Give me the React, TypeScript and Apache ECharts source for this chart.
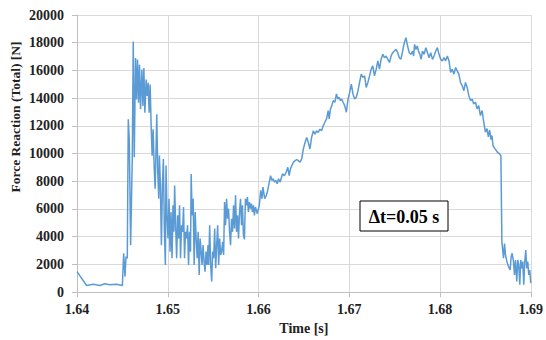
import React, { useEffect, useRef } from "react";
import * as echarts from "echarts";

// Time [s], Force [N]
const preContact: [number, number][] = [
  [1.64, 1480], [1.64106, 480], [1.64179, 570], [1.64252, 480], [1.64306, 600],
  [1.64361, 525], [1.64434, 570], [1.645, 480], [1.64514, 2800], [1.64529, 1120],
  [1.6454, 2560], [1.64554, 2440],
];

const impactPhase: [number, number][] = [
  [1.64565, 12480], [1.64576, 11040], [1.64591, 3390], [1.64609, 9600], [1.6462, 18090],
  [1.64631, 9730], [1.64645, 16900], [1.64656, 13900], [1.64667, 16780], [1.64678, 13670],
  [1.64689, 16400], [1.647, 13200], [1.64715, 16060], [1.64726, 13430], [1.64737, 16180],
  [1.64748, 12950], [1.64762, 15340], [1.64773, 14150], [1.64784, 15100], [1.64795, 12950],
  [1.64806, 14980], [1.64817, 12000], [1.64828, 9850], [1.64839, 11760], [1.6485, 9130],
  [1.64861, 7460], [1.64872, 10560], [1.64879, 12830], [1.6489, 8650], [1.64901, 6740],
  [1.64908, 9850], [1.64919, 7700], [1.6493, 3390], [1.64941, 7700], [1.64952, 9600],
  [1.64963, 4350], [1.64974, 1960], [1.64981, 9130], [1.64992, 5540], [1.65003, 3870],
  [1.65014, 6740], [1.65025, 2920], [1.65036, 5780], [1.65047, 2440], [1.65058, 6260],
  [1.65068, 4350], [1.65076, 7700], [1.65087, 4830], [1.65098, 2440], [1.65109, 5540],
  [1.6512, 3870], [1.6513, 6260], [1.65141, 2440], [1.65152, 4830], [1.65163, 4350],
  [1.65174, 6140], [1.65185, 2440], [1.65196, 4350], [1.65207, 3870], [1.65218, 4830],
  [1.65229, 1960], [1.6524, 4350], [1.65251, 2920], [1.65258, 8530], [1.65269, 5540],
  [1.6528, 6740], [1.65291, 1960], [1.65302, 5780], [1.65313, 3870], [1.65324, 2440],
  [1.65335, 4350], [1.65346, 1240], [1.65357, 3870], [1.65368, 2920], [1.65378, 1960],
  [1.65389, 3390], [1.654, 2200], [1.65411, 1480], [1.65422, 2920], [1.65433, 1960],
  [1.65444, 3390], [1.65451, 1960], [1.65462, 4830], [1.65473, 1960], [1.65484, 760],
  [1.65495, 2920], [1.65506, 2440], [1.65517, 4590], [1.65528, 1720], [1.65539, 3390],
  [1.6555, 4830], [1.65561, 1960], [1.65572, 3870], [1.65583, 2680], [1.65594, 2920],
  [1.65605, 3630], [1.65616, 2680], [1.65626, 6500], [1.65637, 4830], [1.65648, 6740],
  [1.65659, 5300], [1.6567, 6020], [1.65681, 4350], [1.65692, 3390], [1.65703, 5300],
  [1.65714, 4350], [1.65725, 6260], [1.65736, 4590], [1.65747, 6980], [1.65758, 4350],
  [1.65769, 5540], [1.6578, 3870], [1.65791, 5780], [1.65802, 6740], [1.65813, 4830],
  [1.65823, 6260], [1.65834, 4110], [1.65845, 3800], [1.65856, 6740], [1.65867, 6260],
  [1.65878, 6860], [1.65889, 5780], [1.659, 6500], [1.65911, 6020], [1.65922, 6380],
  [1.65933, 5780], [1.65944, 6260], [1.65955, 5540], [1.65966, 6140],
];

const loadingPhase: [number, number][] = [
  [1.65987, 5660], [1.66009, 6260], [1.66024, 7340], [1.66038, 6740], [1.66049, 7580],
  [1.66068, 6740], [1.66082, 6900], [1.66097, 7220], [1.66119, 7940], [1.66133, 8410],
  [1.66148, 8060], [1.66162, 8180], [1.66177, 7940], [1.66192, 8060], [1.66206, 7820],
  [1.66221, 8180], [1.66239, 7940], [1.6625, 8220], [1.66265, 8530], [1.66286, 8410],
  [1.66305, 8650], [1.66323, 9010], [1.66338, 8410], [1.66352, 8890], [1.66367, 9130],
  [1.66385, 9370], [1.66403, 9490], [1.66421, 9560], [1.6644, 9490], [1.66458, 9370],
  [1.66476, 9610], [1.66494, 10330], [1.66513, 10800], [1.66531, 11160], [1.66549, 10800],
  [1.66567, 10330], [1.66585, 11160], [1.66604, 11640], [1.66622, 11400], [1.6664, 11640],
  [1.66658, 11520], [1.66677, 11760], [1.66695, 11640], [1.66713, 12000], [1.66731, 12260],
  [1.6675, 12500], [1.66768, 13100], [1.66779, 12500], [1.66793, 13220], [1.66808, 13460],
  [1.66823, 13820], [1.66841, 13700], [1.66859, 14300], [1.66874, 13940], [1.66888, 14060],
  [1.66903, 13820], [1.66917, 13940], [1.66932, 13700], [1.6695, 13460], [1.66968, 12980],
  [1.66987, 13940], [1.67005, 14420], [1.67023, 15010], [1.67041, 14300], [1.6706, 13940],
  [1.67078, 14060], [1.67096, 14540], [1.67114, 15130], [1.67132, 15730], [1.67151, 15490],
  [1.67169, 15610], [1.67187, 14770], [1.67205, 15130], [1.67224, 15610], [1.67242, 16090],
  [1.6726, 16330], [1.67278, 15610], [1.67297, 16090], [1.67315, 16690], [1.67333, 16090],
  [1.67351, 16810], [1.6737, 17160], [1.67388, 16920], [1.67406, 17040], [1.67424, 16810],
  [1.67443, 16570], [1.67461, 17040], [1.67479, 17280], [1.67497, 17400], [1.67515, 17520],
  [1.67534, 17280], [1.67552, 16920], [1.6757, 16810], [1.67588, 17400], [1.67607, 18000],
  [1.67625, 18360], [1.67643, 17760], [1.67661, 17280], [1.67679, 17160], [1.67698, 17400],
  [1.67709, 17040], [1.6772, 17880], [1.67734, 17520], [1.67749, 17760], [1.67763, 17400],
  [1.67778, 17160], [1.67792, 16810],
];

const unloadingPhase: [number, number][] = [
  [1.67807, 17400], [1.67825, 17160], [1.67844, 17640], [1.67862, 17280], [1.6788, 16920],
  [1.67898, 17280], [1.67917, 16800], [1.67935, 17040], [1.67953, 17400], [1.67971, 17640],
  [1.67989, 17160], [1.68008, 16800], [1.68026, 16690], [1.68044, 16920], [1.68062, 16690],
  [1.68081, 17040], [1.68099, 16690], [1.68117, 15850], [1.68135, 16090], [1.68154, 15730],
  [1.68172, 16210], [1.6819, 15970], [1.68208, 15730], [1.68226, 15130], [1.68245, 14890],
  [1.68263, 14540], [1.68281, 15130], [1.68299, 14770], [1.68318, 14180], [1.68336, 13820],
  [1.68354, 13940], [1.68372, 13580], [1.68391, 13700], [1.68409, 13220], [1.68427, 13460],
  [1.68445, 12740], [1.68464, 13100], [1.68482, 12260], [1.685, 11550], [1.68518, 11800],
  [1.68533, 11200], [1.68547, 11700], [1.68562, 11000], [1.68573, 11300], [1.68584, 10560],
  [1.68609, 10320], [1.68635, 10080], [1.68657, 9970], [1.68671, 9850],
];

const releasePhase: [number, number][] = [
  [1.68682, 3630], [1.687, 2440], [1.68711, 3510], [1.68722, 2680], [1.68737, 2200],
  [1.68755, 1840], [1.68773, 1600], [1.68784, 2560], [1.68795, 2800], [1.6881, 2200],
  [1.68821, 1240], [1.68832, 2320], [1.68846, 760], [1.68857, 2320], [1.68868, 1960],
  [1.68879, 530], [1.6889, 2320], [1.68901, 1720], [1.68912, 2200], [1.68923, 530],
  [1.68934, 2200], [1.68945, 3040], [1.68956, 1720], [1.68967, 2200], [1.68978, 1240],
  [1.68989, 1600], [1.69, 650],
];

const xTitle = "Time [s]";
const yTitle = "Force Reaction (Total) [N]";
const noteText = "Δt=0.05 s";

const SERIF = "'Liberation Serif', 'Times New Roman', serif";

export default function App() {
  const ref = useRef<HTMLDivElement>(null);
  useEffect(() => {
    if (!ref.current) return;
    const chart = echarts.init(ref.current, null, { renderer: "svg" });
    const data = [
      ...preContact,
      ...impactPhase,
      ...loadingPhase,
      ...unloadingPhase,
      ...releasePhase,
    ];
    chart.setOption({
      animation: false,
      backgroundColor: "#ffffff",
      grid: { left: 77, right: 12, top: 15, bottom: 46, containLabel: false },
      xAxis: {
        type: "value",
        min: 1.64,
        max: 1.69,
        interval: 0.01,
        name: xTitle,
        nameLocation: "middle",
        nameGap: 28,
        nameTextStyle: { fontFamily: SERIF, fontWeight: "bold", fontSize: 14, color: "#222" },
        axisLine: { show: true, lineStyle: { color: "#bfbfbf", width: 1 } },
        axisTick: { show: true, length: 5, lineStyle: { color: "#bfbfbf" } },
        axisLabel: {
          fontFamily: SERIF,
          fontWeight: "bold",
          fontSize: 14,
          color: "#222",
          margin: 10,
          formatter: (v: number) => v.toFixed(2),
        },
        splitLine: { show: true, lineStyle: { color: "#d9d9d9", width: 1 } },
      },
      yAxis: {
        type: "value",
        min: 0,
        max: 20000,
        interval: 2000,
        axisLine: { show: true, lineStyle: { color: "#bfbfbf", width: 1 } },
        axisTick: { show: true, length: 5, lineStyle: { color: "#bfbfbf" } },
        axisLabel: {
          fontFamily: SERIF,
          fontWeight: "bold",
          fontSize: 14,
          color: "#222",
          margin: 13,
          formatter: (v: number) => String(Math.round(v)),
        },
        splitLine: { show: true, lineStyle: { color: "#d9d9d9", width: 1 } },
      },
      series: [
        {
          type: "line",
          data,
          showSymbol: false,
          symbol: "none",
          lineStyle: { color: "#5b9bd5", width: 1.5 },
        },
      ],
      graphic: [
        {
          type: "text",
          x: 15,
          y: 117,
          rotation: Math.PI / 2,
          style: {
            text: yTitle,
            fontFamily: SERIF,
            fontWeight: "bold",
            fontSize: 13.5,
            fill: "#222",
            align: "center",
            verticalAlign: "middle",
          },
        },
        {
          type: "rect",
          shape: { x: 360, y: 201, width: 88, height: 30 },
          style: { fill: "#ffffff", stroke: "#000000", lineWidth: 1 },
          z: 10,
        },
        {
          type: "text",
          x: 404,
          y: 216.5,
          z: 11,
          style: {
            text: noteText,
            fontFamily: SERIF,
            fontWeight: "bold",
            fontSize: 18,
            fill: "#000",
            align: "center",
            verticalAlign: "middle",
          },
        },
      ],
    });
    return () => chart.dispose();
  }, []);
  return <div ref={ref} style={{ width: 546, height: 340, position: "absolute", left: 0, top: 0 }} />;
}
